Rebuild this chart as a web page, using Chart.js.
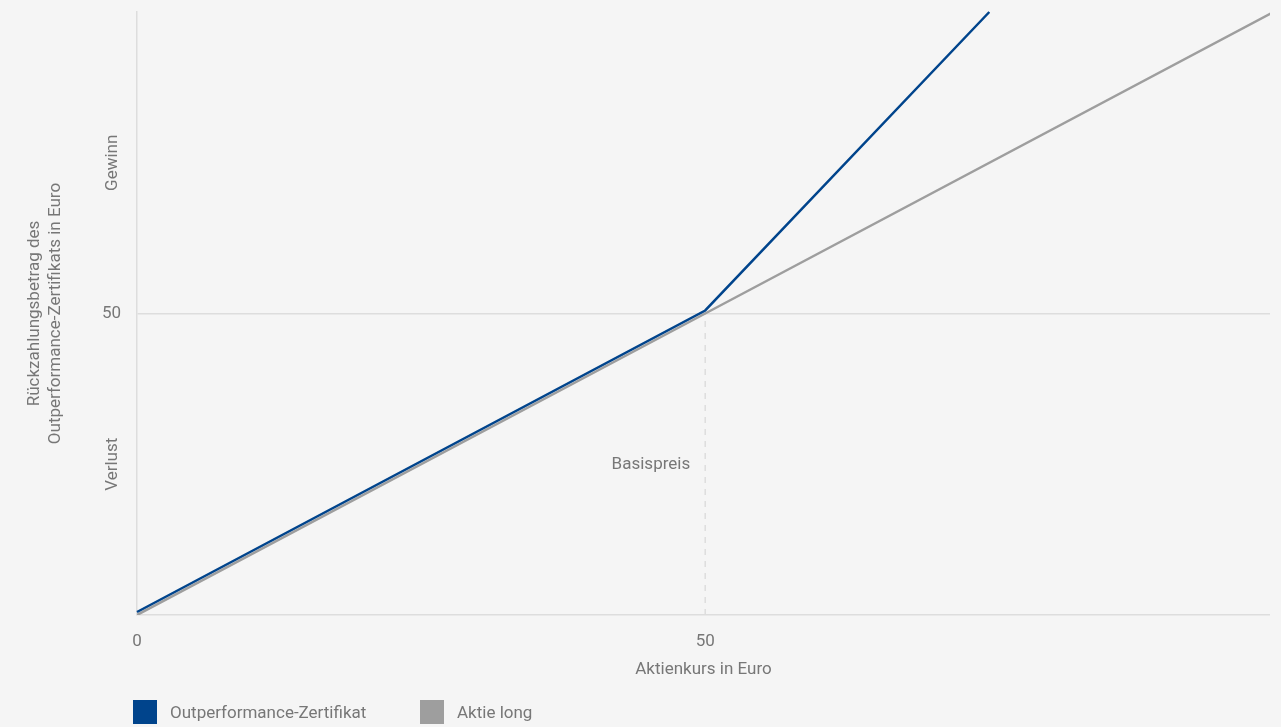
<!DOCTYPE html>
<html><head><meta charset="utf-8">
<script src="https://cdn.jsdelivr.net/npm/chart.js@4.4.1/dist/chart.umd.min.js"></script>
<style>
html,body{margin:0;padding:0;background:#f5f5f5;}
#wrap{position:relative;width:1281px;height:727px;}
#c{position:absolute;left:0;top:0;}
.leg{position:absolute;top:700px;height:24px;display:flex;align-items:center;font:17px Roboto, sans-serif;color:#777;}
.leg span.box{display:inline-block;width:24px;height:24px;margin-right:13px;}
</style></head><body>
<div id="wrap"><canvas id="c" width="1281" height="727"></canvas><div id="legend"></div></div>
<script>
const seriesNames = ['Outperformance-Zertifikat', 'Aktie long'];
const outperfX = [0, 50, 75];
const outperfY = [0.5, 50.5, 100];
const aktieX = [0, 50, 100];
const aktieY = [0, 50, 100];
const basisX = [50, 50];
const basisY = [0, 50];
const xTicks = [0, 50];
const yTicks = [0, 50];
const yZoneLabels = [[25, 'Verlust'], [75, 'Gewinn']];
const xTitle = 'Aktienkurs in Euro';
const yTitle = ['Rückzahlungsbetrag des', 'Outperformance-Zertifikats in Euro'];
const basisLabel = 'Basispreis';
const colors = ['#00448c', '#9e9e9e'];
const textColor = '#777';
const FONT = 'Roboto, sans-serif';
const FS = 17;

const pts = (xs, ys) => xs.map((x, i) => ({x, y: ys[i]}));

const textPlugin = {
  id: 'texts',
  afterDraw(chart) {
    const {ctx, scales: {x, y}, chartArea} = chart;
    ctx.save();
    ctx.fillStyle = textColor;
    ctx.font = FS + 'px ' + FONT;
    ctx.textAlign = 'center';
    ctx.textBaseline = 'middle';
    ctx.fillText(xTitle, (chartArea.left + chartArea.right) / 2, 670);
    yZoneLabels.forEach(([v, t]) => {
      ctx.save();
      ctx.translate(113, y.getPixelForValue(v));
      ctx.rotate(-Math.PI / 2);
      ctx.fillText(t, 0, 0);
      ctx.restore();
    });
    const cy = (chartArea.top + chartArea.bottom) / 2;
    ctx.save();
    ctx.translate(35, cy);
    ctx.rotate(-Math.PI / 2);
    ctx.fillText(yTitle[0], 0, 0);
    ctx.fillText(yTitle[1], 0, 21);
    ctx.restore();
    ctx.textAlign = 'right';
    ctx.fillText(basisLabel, x.getPixelForValue(basisX[0]) - 15, y.getPixelForValue(25));
    ctx.restore();
  }
};

new Chart(document.getElementById('c'), {
  type: 'line',
  data: {
    datasets: [
      {label: 'basis', data: pts(basisX, basisY), borderColor: '#dddddd', borderWidth: 1.5, borderDash: [6, 6], pointRadius: 0, order: 3},
      {label: seriesNames[1], data: pts(aktieX, aktieY), borderColor: colors[1], borderWidth: 2.5, pointRadius: 0, order: 2, clip: 0},
      {label: seriesNames[0], data: pts(outperfX, outperfY), borderColor: colors[0], borderWidth: 2.5, pointRadius: 0, order: 1, clip: 2}
    ]
  },
  options: {
    responsive: false,
    animation: false,
    events: [],
    layout: {padding: {left: 0, right: 11, top: 12, bottom: 0}},
    plugins: {legend: {display: false}, tooltip: {enabled: false}},
    scales: {
      x: {
        type: 'linear', min: 0, max: 99.7,
        afterFit(s) { s.height = 112; s.paddingLeft = 0; s.paddingRight = 0; },
        afterBuildTicks(s) { s.ticks = xTicks.map(v => ({value: v})); },
        grid: {display: false, drawTicks: false},
        border: {display: false},
        ticks: {padding: 17, color: textColor, font: {family: FONT, size: FS}, maxRotation: 0}
      },
      y: {
        type: 'linear', min: 0, max: 100,
        afterFit(s) { s.width = 137; s.paddingTop = 0; s.paddingBottom = 0; },
        afterBuildTicks(s) { s.ticks = yTicks.map(v => ({value: v})); },
        grid: {color: '#dddddd', lineWidth: 1.5, drawTicks: false},
        border: {display: true, color: '#dddddd', width: 1.5},
        ticks: {padding: 16, color: textColor, font: {family: FONT, size: FS}, callback: v => v === 0 ? '' : String(v)}
      }
    }
  },
  plugins: [textPlugin]
});

const legX = [133, 420];
const legend = document.getElementById('legend');
seriesNames.forEach((n, i) => {
  const d = document.createElement('div');
  d.className = 'leg';
  d.style.left = legX[i] + 'px';
  d.innerHTML = '<span class="box" style="background:' + colors[i] + '"></span>' + n;
  legend.appendChild(d);
});
</script>
</body></html>
